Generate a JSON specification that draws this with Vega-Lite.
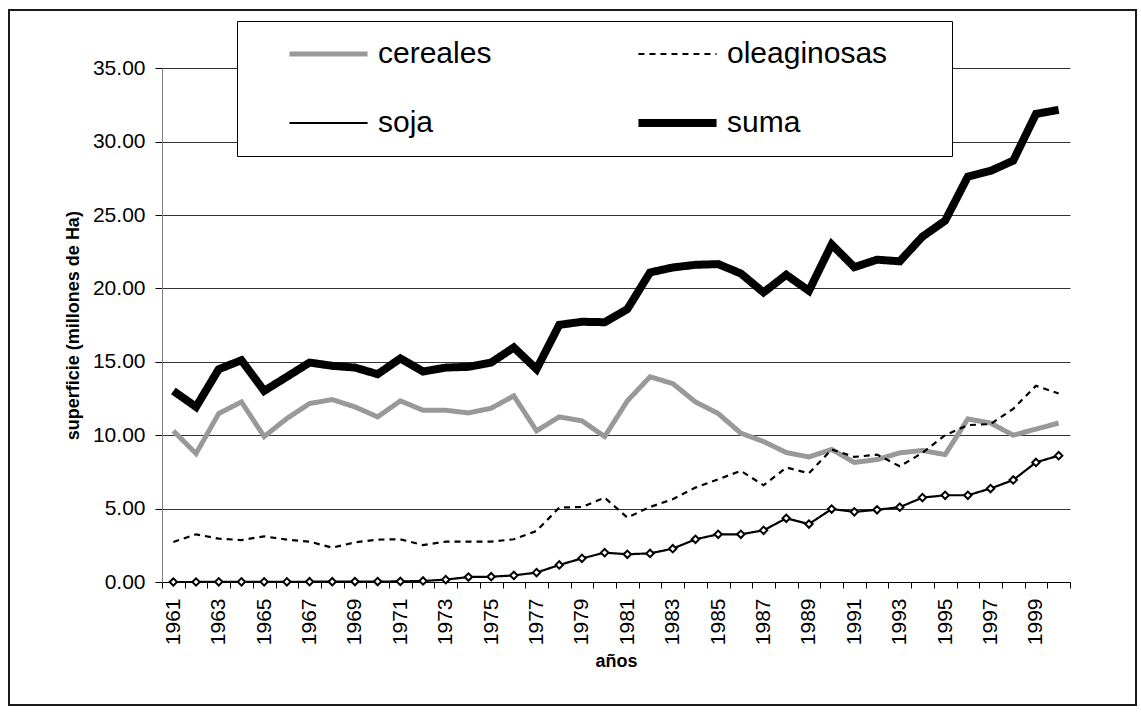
{
  "$schema": "https://vega.github.io/schema/vega-lite/v6.json",
  "width": 1127,
  "height": 695,
  "autosize": {"type": "none"},
  "padding": {"left": 9, "top": 10, "right": 5, "bottom": 12},
  "background": "white",
  "config": {
    "font": "Liberation Sans",
    "view": {"stroke": "#1a1a1a", "strokeWidth": 2},
    "axis": {"labelFont": "Liberation Sans", "titleFont": "Liberation Sans", "labelColor": "black", "titleColor": "black"}
  },
  "data": {
    "values": [
      {"year": 1961, "cereales": 10.30, "oleaginosas": 2.73, "soja": 0.00, "suma": 13.02},
      {"year": 1962, "cereales": 8.75, "oleaginosas": 3.25, "soja": 0.00, "suma": 11.93},
      {"year": 1963, "cereales": 11.48, "oleaginosas": 2.95, "soja": 0.01, "suma": 14.50},
      {"year": 1964, "cereales": 12.27, "oleaginosas": 2.86, "soja": 0.01, "suma": 15.11},
      {"year": 1965, "cereales": 9.91, "oleaginosas": 3.11, "soja": 0.01, "suma": 13.02},
      {"year": 1966, "cereales": 11.14, "oleaginosas": 2.89, "soja": 0.01, "suma": 13.98},
      {"year": 1967, "cereales": 12.16, "oleaginosas": 2.75, "soja": 0.02, "suma": 14.95},
      {"year": 1968, "cereales": 12.43, "oleaginosas": 2.34, "soja": 0.02, "suma": 14.73},
      {"year": 1969, "cereales": 11.93, "oleaginosas": 2.70, "soja": 0.03, "suma": 14.61},
      {"year": 1970, "cereales": 11.25, "oleaginosas": 2.89, "soja": 0.03, "suma": 14.16},
      {"year": 1971, "cereales": 12.34, "oleaginosas": 2.91, "soja": 0.04, "suma": 15.23},
      {"year": 1972, "cereales": 11.70, "oleaginosas": 2.52, "soja": 0.07, "suma": 14.34},
      {"year": 1973, "cereales": 11.70, "oleaginosas": 2.75, "soja": 0.16, "suma": 14.61},
      {"year": 1974, "cereales": 11.52, "oleaginosas": 2.75, "soja": 0.34, "suma": 14.66},
      {"year": 1975, "cereales": 11.84, "oleaginosas": 2.75, "soja": 0.36, "suma": 14.95},
      {"year": 1976, "cereales": 12.68, "oleaginosas": 2.91, "soja": 0.45, "suma": 15.98},
      {"year": 1977, "cereales": 10.30, "oleaginosas": 3.48, "soja": 0.64, "suma": 14.50},
      {"year": 1978, "cereales": 11.25, "oleaginosas": 5.07, "soja": 1.16, "suma": 17.52},
      {"year": 1979, "cereales": 10.98, "oleaginosas": 5.11, "soja": 1.61, "suma": 17.73},
      {"year": 1980, "cereales": 9.91, "oleaginosas": 5.75, "soja": 2.00, "suma": 17.70},
      {"year": 1981, "cereales": 12.34, "oleaginosas": 4.39, "soja": 1.89, "suma": 18.59},
      {"year": 1982, "cereales": 13.98, "oleaginosas": 5.11, "soja": 1.95, "suma": 21.09},
      {"year": 1983, "cereales": 13.52, "oleaginosas": 5.64, "soja": 2.27, "suma": 21.43},
      {"year": 1984, "cereales": 12.27, "oleaginosas": 6.43, "soja": 2.91, "suma": 21.61},
      {"year": 1985, "cereales": 11.48, "oleaginosas": 7.00, "soja": 3.25, "suma": 21.66},
      {"year": 1986, "cereales": 10.14, "oleaginosas": 7.57, "soja": 3.25, "suma": 21.02},
      {"year": 1987, "cereales": 9.57, "oleaginosas": 6.59, "soja": 3.52, "suma": 19.73},
      {"year": 1988, "cereales": 8.82, "oleaginosas": 7.80, "soja": 4.34, "suma": 20.93},
      {"year": 1989, "cereales": 8.52, "oleaginosas": 7.41, "soja": 3.95, "suma": 19.84},
      {"year": 1990, "cereales": 9.03, "oleaginosas": 9.03, "soja": 4.97, "suma": 23.00},
      {"year": 1991, "cereales": 8.15, "oleaginosas": 8.52, "soja": 4.78, "suma": 21.45},
      {"year": 1992, "cereales": 8.34, "oleaginosas": 8.68, "soja": 4.92, "suma": 21.96},
      {"year": 1993, "cereales": 8.80, "oleaginosas": 7.88, "soja": 5.10, "suma": 21.85},
      {"year": 1994, "cereales": 8.96, "oleaginosas": 8.80, "soja": 5.75, "suma": 23.53},
      {"year": 1995, "cereales": 8.68, "oleaginosas": 10.00, "soja": 5.91, "suma": 24.62},
      {"year": 1996, "cereales": 11.11, "oleaginosas": 10.69, "soja": 5.91, "suma": 27.62},
      {"year": 1997, "cereales": 10.83, "oleaginosas": 10.76, "soja": 6.37, "suma": 28.01},
      {"year": 1998, "cereales": 10.00, "oleaginosas": 11.80, "soja": 6.95, "suma": 28.71},
      {"year": 1999, "cereales": 10.42, "oleaginosas": 13.37, "soja": 8.15, "suma": 31.89},
      {"year": 2000, "cereales": 10.83, "oleaginosas": 12.84, "soja": 8.61, "suma": 32.17}
    ]
  },
  "transform": [
    {"fold": ["cereales", "oleaginosas", "soja", "suma"], "as": ["serie", "valor"]}
  ],
  "encoding": {
    "x": {
      "field": "year", "type": "ordinal", "bandPosition": 0.5,
      "scale": {"type": "band", "paddingInner": 0, "paddingOuter": 0, "range": [153, 1061]},
      "axis": {
        "title": "años", "titleFontSize": 18, "titleFontWeight": "bold", "titlePadding": 8,
        "offset": -123,
        "labelAngle": -90, "labelFontSize": 21, "labelPadding": 10,
        "labelExpr": "datum.value % 2 == 1 ? datum.value : ''",
        "tickBand": "extent", "tickSize": 6, "tickColor": "black",
        "domainColor": "black", "grid": false, "labelOverlap": false
      }
    },
    "y": {
      "field": "valor", "type": "quantitative",
      "scale": {"domain": [0, 35], "nice": false, "range": [572, 58.3]},
      "axis": {
        "title": "superficie (millones de Ha)", "titleFontSize": 18, "titleFontWeight": "bold", "titlePadding": 10,
        "offset": -153,
        "values": [0, 5, 10, 15, 20, 25, 30, 35], "format": ".2f",
        "labelFontSize": 21, "labelPadding": 10, "tickSize": 7, "tickColor": "black",
        "domainColor": "#808080", "grid": true, "gridColor": "#333333", "gridWidth": 1
      }
    }
  },
  "layer": [
    {
      "mark": {"type": "line", "strokeCap": "butt", "strokeJoin": "miter"},
      "encoding": {
        "color": {
          "field": "serie", "type": "nominal",
          "scale": {"domain": ["cereales", "oleaginosas", "soja", "suma"], "range": ["#999999", "#000000", "#000000", "#000000"]},
          "legend": {
            "title": " ", "titleOrient": "right", "titlePadding": 47, "titleFontSize": 10,
            "orient": "none", "legendX": 228, "legendY": 11,
            "direction": "horizontal", "columns": 2,
            "strokeColor": "black", "fillColor": "white", "padding": 18,
            "symbolType": "stroke", "symbolSize": 6100, "symbolOffset": 30,
            "clipHeight": 30,
            "labelFontSize": 30, "labelFont": "Liberation Sans", "labelColor": "black", "labelLimit": 400, "labelOffset": 6,
            "columnPadding": 112, "rowPadding": 39
          }
        },
        "strokeWidth": {
          "field": "serie", "type": "nominal",
          "scale": {"type": "ordinal", "domain": ["cereales", "oleaginosas", "soja", "suma"], "range": [5, 2.2, 2.2, 8]}
        },
        "strokeDash": {
          "field": "serie", "type": "nominal",
          "scale": {"domain": ["cereales", "oleaginosas", "soja", "suma"], "range": [[1, 0], [6, 5], [1, 0], [1, 0]]}
        }
      }
    },
    {
      "transform": [{"filter": "datum.serie == 'soja'"}],
      "mark": {"type": "point", "shape": "diamond", "filled": true, "fill": "white", "stroke": "black", "strokeWidth": 2, "size": 55, "opacity": 1}
    }
  ]
}
